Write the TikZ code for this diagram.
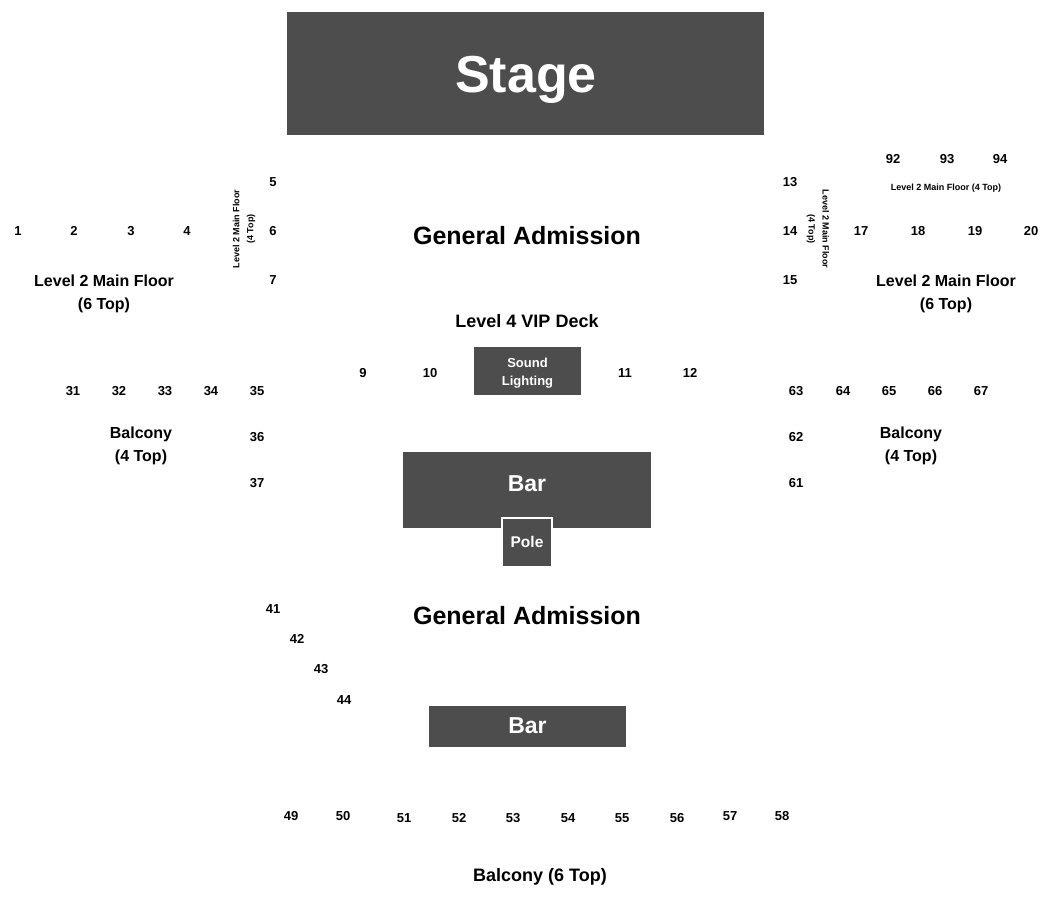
\documentclass[tikz,border=0pt]{standalone}
\usepackage{fontspec}
\setmainfont{Liberation Sans}
\usepackage{xcolor}
\usepackage{tikz}
\definecolor{blockgray}{HTML}{4D4D4D}
\newcommand{\fs}[2]{\fontsize{#1}{#2}\selectfont\bfseries}

\begin{document}
\begin{tikzpicture}[x=1pt, y=-1pt]
\tikzstyle{seat}=[inner sep=0pt, font=\fs{13}{15}]
\tikzstyle{block}=[fill=blockgray, inner sep=0pt]
\tikzstyle{blocktext}=[text=white, inner sep=0pt, align=center]
\tikzstyle{area}=[inner sep=0pt, align=center]
\useasboundingbox (0,0) rectangle (1050,900);

% stage and fixed blocks
\node[block, minimum width=477pt, minimum height=123pt] (stage) at (525.5,73.5) {};
\node[blocktext, font=\fs{52}{56}] (stagetext) at (526,80) {Stage};

\node[block, minimum width=107pt, minimum height=48pt] (sound) at (527.5,371) {};
\node[blocktext, font=\fs{13}{18}] (soundtext) at (527.5,373) {Sound\\Lighting};

\node[block, minimum width=248pt, minimum height=76pt] (bar) at (527,490) {};
\node[blocktext, font=\fs{23}{26}] (bartext) at (527,484) {Bar};
\node[block, draw=white, line width=1.5pt, minimum width=50pt, minimum height=49pt] (pole) at (527,542.5) {};
\node[blocktext, font=\fs{15.5}{18}] (poletext) at (527,542) {Pole};

\node[block, minimum width=197pt, minimum height=41pt] (bartwo) at (527.5,726.5) {};
\node[blocktext, font=\fs{23}{26}] (bartwotext) at (527.5,726) {Bar};

% area labels
\node[area, font=\fs{25}{28}] (gatop) at (527,236) {General Admission};
\node[area, font=\fs{25}{28}] (gabottom) at (527,616) {General Admission};
\node[area, font=\fs{18}{20}] (vip) at (527,321) {Level 4 VIP Deck};
\node[area, font=\fs{16}{23}] (mainleft) at (104,294) {Level 2 Main Floor\\(6 Top)};
\node[area, font=\fs{16}{23}] (mainright) at (946,294) {Level 2 Main Floor\\(6 Top)};
\node[area, font=\fs{16}{23}] (balcleft) at (141,446) {Balcony\\(4 Top)};
\node[area, font=\fs{16}{23}] (balcright) at (911,446) {Balcony\\(4 Top)};
\node[area, font=\fs{18}{20}] (balcbottom) at (540,877) {Balcony (6 Top)};
\node[area, font=\fs{9}{11}] (fourtop) at (946,188) {Level 2 Main Floor (4 Top)};
\node[area, font=\fs{9}{14}, rotate=90] (fourleft) at (244,229) {Level 2 Main Floor\\(4 Top)};
\node[area, font=\fs{9}{14}, rotate=-90] (fourright) at (818,229) {Level 2 Main Floor\\(4 Top)};

% seat numbers
\foreach \n/\x/\y in {1/18/231, 2/74/231, 3/131/231, 4/187/231,
    5/273/182, 6/273/231, 7/273/280,
    13/790/182, 14/790/231, 15/790/280,
    17/861/231, 18/918/231, 19/975/231, 20/1031/231,
    92/893/159, 93/947/159, 94/1000/159,
    9/363/373, 10/430/373, 11/625/373, 12/690/373,
    31/73/391, 32/119/391, 33/165/391, 34/211/391, 35/257/391,
    36/257/437, 37/257/483,
    63/796/391, 64/843/391, 65/889/391, 66/935/391, 67/981/391,
    62/796/437, 61/796/483,
    41/273/609, 42/297/639, 43/321/669, 44/344/700,
    49/291/816, 50/343/816, 51/404/818, 52/459/818, 53/513/818,
    54/568/818, 55/622/818, 56/677/818, 57/730/816, 58/782/816}
  \node[seat] (s\n) at (\x,\y) {\n};

\end{tikzpicture}
\end{document}
